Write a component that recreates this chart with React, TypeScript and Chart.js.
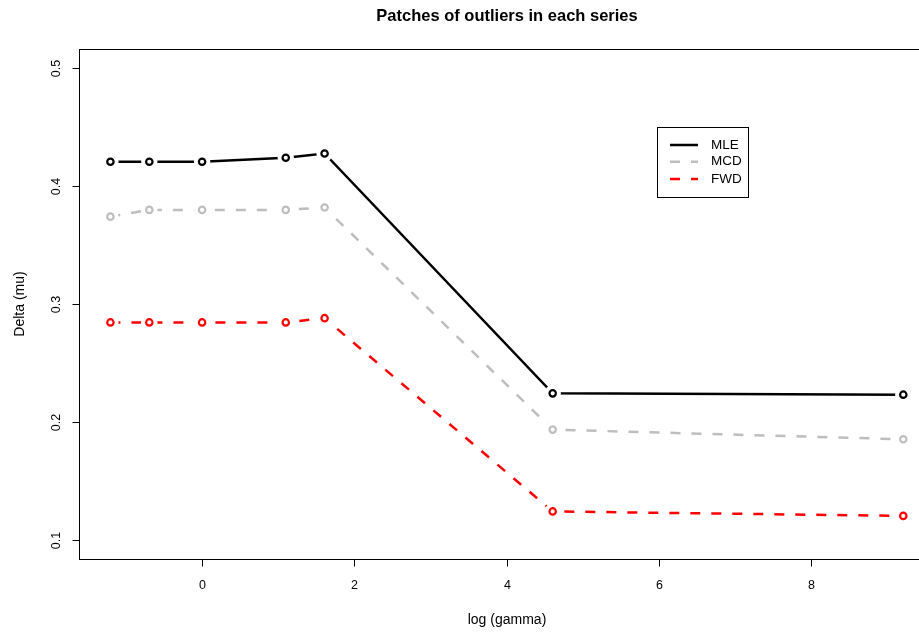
import React, { useEffect, useRef } from "react";
import { Chart, registerables } from "chart.js";

Chart.register(...registerables);

// log(gamma) positions
const logGamma = [-1.204, -0.693, 0, 1.099, 1.609, 4.605, 9.21];

// Delta (mu) for each estimator
const mleValues = [0.4205, 0.4205, 0.4205, 0.4239, 0.4275, 0.2243, 0.2232];
const mcdValues = [0.374, 0.3797, 0.3797, 0.3797, 0.3817, 0.1936, 0.1854];
const fwdValues = [0.2844, 0.2844, 0.2844, 0.2844, 0.288, 0.1243, 0.1205];

const seriesNames = ["MLE", "MCD", "FWD"];
const xTicks = [0, 2, 4, 6, 8];
const yTicks = [0.1, 0.2, 0.3, 0.4, 0.5];
const yTickLabels = ["0.1", "0.2", "0.3", "0.4", "0.5"];

const titleText = "Patches of outliers in each series";
const xTitle = "log (gamma)";
const yTitle = "Delta (mu)";

const FONT = "'Liberation Sans', Arial, Helvetica, sans-serif";
const CANVAS_W = 1000;
const CANVAS_H = 632;

const colors = ["#000000", "#BEBEBE", "#FF0000"];
const dashes: number[][] = [[], [10, 11], [10, 11]];

const basePlot = {
  id: "basePlot",
  afterDatasetsDraw(chart: any) {
    const { ctx, chartArea, scales } = chart;
    const { left, top, right, bottom } = chartArea;
    const xs = scales.x;
    const ys = scales.y;
    ctx.save();

    // open circle markers, with a white gap where the lines meet them
    chart.data.datasets.forEach((ds: any, i: number) => {
      const meta = chart.getDatasetMeta(i);
      meta.data.forEach((pt: any) => {
        ctx.beginPath();
        ctx.fillStyle = "#ffffff";
        ctx.arc(pt.x, pt.y, 8.2, 0, Math.PI * 2);
        ctx.fill();
      });
      meta.data.forEach((pt: any) => {
        ctx.beginPath();
        ctx.strokeStyle = ds.borderColor;
        ctx.lineWidth = 2.2;
        ctx.setLineDash([]);
        ctx.arc(pt.x, pt.y, 3.2, 0, Math.PI * 2);
        ctx.stroke();
      });
    });

    // plot frame
    ctx.strokeStyle = "#000";
    ctx.lineWidth = 1;
    ctx.setLineDash([]);
    ctx.strokeRect(Math.round(left) + 0.5, Math.round(top) + 0.5, Math.round(right - left), Math.round(bottom - top));

    ctx.fillStyle = "#000";
    ctx.font = `12.5px ${FONT}`;

    // x axis ticks
    const by = Math.round(bottom) + 0.5;
    xTicks.forEach((v) => {
      const px = Math.round(xs.getPixelForValue(v)) + 0.5;
      ctx.beginPath();
      ctx.moveTo(px, by);
      ctx.lineTo(px, by + 7);
      ctx.stroke();
      ctx.textAlign = "center";
      ctx.textBaseline = "middle";
      ctx.fillText(String(v), px, 586);
    });

    // y axis ticks with rotated labels
    const lx = Math.round(left) + 0.5;
    yTicks.forEach((v, i) => {
      const py = Math.round(ys.getPixelForValue(v)) + 0.5;
      ctx.beginPath();
      ctx.moveTo(lx, py);
      ctx.lineTo(lx - 7, py);
      ctx.stroke();
      ctx.save();
      ctx.translate(57, py);
      ctx.rotate(-Math.PI / 2);
      ctx.textAlign = "center";
      ctx.textBaseline = "middle";
      ctx.fillText(yTickLabels[i], 0, 0);
      ctx.restore();
    });

    // axis titles
    const cx = (left + right) / 2;
    const cy = (top + bottom) / 2;
    ctx.font = `14px ${FONT}`;
    ctx.textAlign = "center";
    ctx.textBaseline = "middle";
    ctx.fillText(xTitle, cx, 620);
    ctx.save();
    ctx.translate(20, cy);
    ctx.rotate(-Math.PI / 2);
    ctx.fillText(yTitle, 0, 0);
    ctx.restore();

    // main title
    ctx.font = `bold 16.5px ${FONT}`;
    ctx.fillText(titleText, cx, 16);

    // legend
    const bx = 657.5, byy = 127.5, bw = 91, bh = 70;
    ctx.fillStyle = "#fff";
    ctx.fillRect(bx, byy, bw, bh);
    ctx.strokeStyle = "#000";
    ctx.lineWidth = 1;
    ctx.strokeRect(bx, byy, bw, bh);
    ctx.font = `13.5px ${FONT}`;
    ctx.textAlign = "left";
    ctx.textBaseline = "middle";
    const rows = [145, 161.7, 179];
    seriesNames.forEach((name, i) => {
      ctx.beginPath();
      ctx.strokeStyle = colors[i];
      ctx.lineWidth = 2.5;
      ctx.setLineDash(dashes[i]);
      ctx.moveTo(670, rows[i]);
      ctx.lineTo(698, rows[i]);
      ctx.stroke();
      ctx.setLineDash([]);
      ctx.fillStyle = "#000";
      ctx.fillText(name, 711, rows[i]);
    });

    ctx.restore();
  },
};

export default function App() {
  const canvasRef = useRef<HTMLCanvasElement | null>(null);

  useEffect(() => {
    const canvas = canvasRef.current;
    if (!canvas) return;
    const seriesValues = [mleValues, mcdValues, fwdValues];
    const chart = new Chart(canvas, {
      type: "line",
      data: {
        datasets: seriesNames.map((name, i) => ({
          label: name,
          data: logGamma.map((x, j) => ({ x, y: seriesValues[i][j] })),
          borderColor: colors[i],
          backgroundColor: colors[i],
          borderWidth: 2.5,
          borderDash: dashes[i],
          pointRadius: 0,
          pointHoverRadius: 0,
          tension: 0,
          fill: false,
        })),
      },
      options: {
        responsive: false,
        animation: false,
        events: [],
        layout: { padding: { left: 79, top: 49, right: CANVAS_W - 935, bottom: CANVAS_H - 559 } },
        plugins: {
          legend: { display: false },
          title: { display: false },
          tooltip: { enabled: false },
        },
        scales: {
          x: { type: "linear", min: -1.6166, max: 9.6266, display: false },
          y: { type: "linear", min: 0.084, max: 0.516, display: false },
        },
      },
      plugins: [basePlot],
    });
    return () => chart.destroy();
  }, []);

  return (
    <div
      style={{
        position: "fixed",
        left: 0,
        top: 0,
        width: 919,
        height: 632,
        overflow: "hidden",
        background: "#fff",
      }}
    >
      <canvas
        ref={canvasRef}
        width={CANVAS_W}
        height={CANVAS_H}
        style={{ width: CANVAS_W, height: CANVAS_H, display: "block" }}
      />
    </div>
  );
}
